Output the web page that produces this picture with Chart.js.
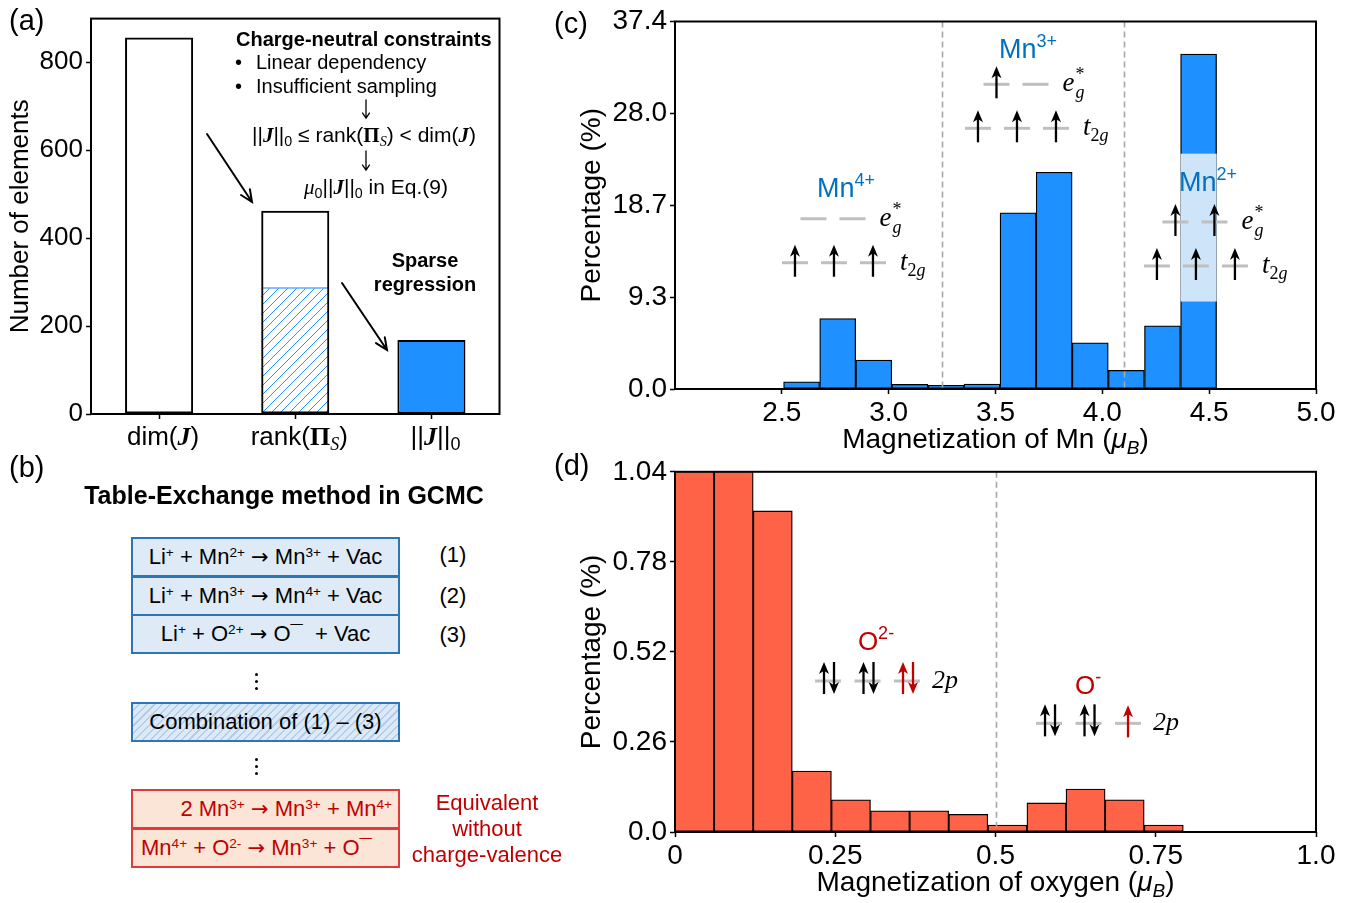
<!DOCTYPE html>
<html><head><meta charset="utf-8">
<script src="https://cdn.jsdelivr.net/npm/chart.js@4.4.1/dist/chart.umd.min.js"></script>
<style>
html,body{margin:0;padding:0;background:#fff;}
body{width:1359px;height:903px;position:relative;overflow:hidden;font-family:"Liberation Sans",Arial,Helvetica,sans-serif;color:#000;}
canvas{position:absolute;}
.t{position:absolute;white-space:nowrap;color:#000;}
.pl{position:absolute;font-size:29px;line-height:34px;}
sup.s{font-size:0.62em;position:relative;top:-0.5em;vertical-align:baseline;line-height:0;}
sub.s{font-size:0.68em;position:relative;top:0.28em;vertical-align:baseline;line-height:0;}
.J{font-family:"Liberation Serif","DejaVu Serif",serif;font-style:italic;font-weight:bold;}
.Pi{font-family:"Liberation Serif","DejaVu Serif",serif;font-weight:bold;}
.it{font-family:"Liberation Serif","DejaVu Serif",serif;font-style:italic;}
.ar{font-family:"DejaVu Sans",sans-serif;font-size:21px;}
.bx{position:absolute;left:131px;width:269px;height:40px;box-sizing:border-box;font-size:22px;line-height:36px;white-space:nowrap;}
.blue{border:2px solid #2e75b6;background:#deebf7;text-align:center;}
.hatch{border:2px solid #2e75b6;text-align:center;background:repeating-linear-gradient(-45deg,#dce9f6 0px,#dce9f6 4px,#b3cdea 4px,#b3cdea 5.5px);}
.red{border:2px solid #e03a3a;background:#fbe5d6;color:#c00000;}
.dots{position:absolute;width:3px;height:3px;border-radius:50%;background:#000;box-shadow:0 7px 0 #000,0 14px 0 #000;}
</style>
</head><body>

<canvas id="ca" width="515" height="460" style="left:0;top:0"></canvas>
<canvas id="cd" width="809" height="451" style="left:550px;top:452px"></canvas>
<canvas id="cc" width="809" height="460" style="left:550px;top:0"></canvas>

<!-- panel labels -->
<div class="pl" style="left:9px;top:3px">(a)</div>
<div class="pl" style="left:9px;top:450px">(b)</div>
<div class="pl" style="left:554px;top:6px">(c)</div>
<div class="pl" style="left:554px;top:448px">(d)</div>

<!-- panel (a) annotations -->
<div class="t" style="left:236px;top:27px;font-size:20px;font-weight:bold;line-height:25px">Charge-neutral constraints</div>
<div class="t" style="left:235px;top:50px;font-size:20px;line-height:25px">•</div>
<div class="t" style="left:256px;top:50px;font-size:20px;line-height:25px">Linear dependency</div>
<div class="t" style="left:235px;top:74px;font-size:20px;line-height:25px">•</div>
<div class="t" style="left:256px;top:74px;font-size:20px;line-height:25px">Insufficient sampling</div>
<div class="t" style="left:214px;width:300px;text-align:center;top:122px;font-size:21px;line-height:25px">||<span class="J">J</span>||<sub class="s">0</sub> ≤ rank(<span class="Pi">Π</span><sub class="s it">S</sub>) &lt; dim(<span class="J">J</span>)</div>
<div class="t" style="left:226px;width:300px;text-align:center;top:174px;font-size:21px;line-height:25px"><span class="it">μ</span><sub class="s">0</sub>||<span class="J">J</span>||<sub class="s">0</sub> in Eq.(9)</div>
<div class="t" style="left:345px;width:160px;text-align:center;top:248px;font-size:20px;font-weight:bold;line-height:24px">Sparse<br>regression</div>

<!-- panel (b) -->
<div class="t" style="left:40px;width:488px;text-align:center;top:480px;font-size:25px;font-weight:bold;line-height:30px">Table-Exchange method in GCMC</div>
<div class="bx blue" style="top:537px">Li<sup class="s">+</sup> + Mn<sup class="s">2+</sup> <span class="ar">→</span> Mn<sup class="s">3+</sup> + Vac</div>
<div class="bx blue" style="top:576px">Li<sup class="s">+</sup> + Mn<sup class="s">3+</sup> <span class="ar">→</span> Mn<sup class="s">4+</sup> + Vac</div>
<div class="bx blue" style="top:614px">Li<sup class="s">+</sup> + O<sup class="s">2+</sup> <span class="ar">→</span> O¯ &nbsp;+ Vac</div>
<div class="t" style="left:433px;width:40px;text-align:center;top:542px;font-size:22px;line-height:26px">(1)</div>
<div class="t" style="left:433px;width:40px;text-align:center;top:583px;font-size:22px;line-height:26px">(2)</div>
<div class="t" style="left:433px;width:40px;text-align:center;top:622px;font-size:22px;line-height:26px">(3)</div>
<div class="dots" style="left:255px;top:673px"></div>
<div class="bx hatch" style="top:702px">Combination of (1) – (3)</div>
<div class="dots" style="left:255px;top:758px"></div>
<div class="bx red" style="top:789px;text-align:right;padding-right:6px">2 Mn<sup class="s">3+</sup> <span class="ar">→</span> Mn<sup class="s">3+</sup> + Mn<sup class="s">4+</sup></div>
<div class="bx red" style="top:828px;text-align:left;padding-left:8px">Mn<sup class="s">4+</sup> + O<sup class="s">2-</sup> <span class="ar">→</span> Mn<sup class="s">3+</sup> + O¯</div>
<div class="t" style="left:395px;width:184px;text-align:center;top:790px;font-size:22px;line-height:26px;color:#c00000">Equivalent<br>without<br>charge-valence</div>

<script>
const SANS='"Liberation Sans", Arial, Helvetica, sans-serif';
const SERIF='"Liberation Serif", "DejaVu Serif", "Times New Roman", serif';
Chart.defaults.font.family=SANS;
Chart.defaults.color='#000';

// ================= DATA =================
// panel (a)
const aCategories=['dim(J)','rank(Pi_S)','||J||_0'];
const aElementCounts=[856,462,168];
const aIndependentPart=[null,288,null];
const aTicksY=[0,200,400,600,800];

// panel (c) : Mn magnetization histogram (percentage)
const mnBinEdges=[2.508,2.677,2.846,3.015,3.184,3.353,3.521,3.690,3.859,4.028,4.197,4.366,4.535];
const mnPercent=[0.74,7.17,2.94,0.47,0.37,0.51,17.94,22.06,4.70,1.90,6.43,34.08];
const mnTicksX=[2.5,3.0,3.5,4.0,4.5,5.0];
const mnTickLabelsX=['2.5','3.0','3.5','4.0','4.5','5.0'];
const mnTicksY=[0,9.35,18.7,28.05,37.4];
const mnTickLabelsY=['0.0','9.3','18.7','28.0','37.4'];
const mnValenceBounds=[3.25,4.1];

// panel (d) : O magnetization histogram (percentage)
const oBinEdges=[0,0.061,0.122,0.183,0.244,0.305,0.366,0.427,0.488,0.549,0.610,0.671,0.732,0.793];
const oPercent=[62.5,35.8,0.927,0.176,0.093,0.061,0.061,0.051,0.020,0.084,0.124,0.093,0.020];
const oTicksX=[0,0.25,0.5,0.75,1.0];
const oTickLabelsX=['0','0.25','0.5','0.75','1.0'];
const oTicksY=[0,0.26,0.52,0.78,1.04];
const oTickLabelsY=['0.0','0.26','0.52','0.78','1.04'];
const oValenceBounds=[0.5];

// ================= helpers =================
function drawRich(ctx,segs,x,y,align,color){
  let total=0;
  const ws=segs.map(s=>{
    let w;
    if(s.stack){w=Math.max(...s.stack.map(p=>{ctx.font=p.font;return ctx.measureText(p.t).width;}));}
    else{ctx.font=s.font;w=ctx.measureText(s.t).width;}
    w+=(s.gap||0);total+=w;return w;
  });
  let cx=align==='center'?x-total/2:(align==='right'?x-total:x);
  ctx.save();ctx.textBaseline='alphabetic';ctx.textAlign='left';
  segs.forEach((s,i)=>{
    (s.stack||[s]).forEach(p=>{ctx.font=p.font;ctx.fillStyle=p.color||s.color||color||'#000';ctx.fillText(p.t,cx+(p.dx||0),y+(p.dy||0));});
    cx+=ws[i];
  });
  ctx.restore();
}
function arrowV(ctx,x,yTail,yHead,color){
  const dir=Math.sign(yHead-yTail),hl=12,hw=5;
  ctx.save();ctx.strokeStyle=color;ctx.fillStyle=color;ctx.lineWidth=2.3;
  ctx.beginPath();ctx.moveTo(x,yTail);ctx.lineTo(x,yHead-dir*hl*0.6);ctx.stroke();
  ctx.beginPath();ctx.moveTo(x,yHead);ctx.lineTo(x-hw,yHead-dir*hl);ctx.lineTo(x,yHead-dir*hl*0.72);ctx.lineTo(x+hw,yHead-dir*hl);ctx.closePath();ctx.fill();
  ctx.restore();
}
function level(ctx,cx,y){
  ctx.save();ctx.strokeStyle='#bfbfbf';ctx.lineWidth=3;ctx.beginPath();ctx.moveTo(cx-13,y);ctx.lineTo(cx+13,y);ctx.stroke();ctx.restore();
}
function openArrow(ctx,x0,y0,x1,y1,lw,hl,ang){
  const a=Math.atan2(y1-y0,x1-x0);
  ctx.save();ctx.strokeStyle='#000';ctx.lineWidth=lw;ctx.lineCap='round';
  ctx.beginPath();ctx.moveTo(x0,y0);ctx.lineTo(x1,y1);
  ctx.moveTo(x1-hl*Math.cos(a-ang),y1-hl*Math.sin(a-ang));ctx.lineTo(x1,y1);
  ctx.lineTo(x1-hl*Math.cos(a+ang),y1-hl*Math.sin(a+ang));ctx.stroke();ctx.restore();
}
const framePlugin={id:'frame',afterDraw(chart){
  const a=chart.chartArea,ctx=chart.ctx;ctx.save();ctx.strokeStyle='#000';ctx.lineWidth=2;
  ctx.strokeRect(a.left,a.top,a.right-a.left,a.bottom-a.top);ctx.restore();
}};
function tickGrid(){return {display:true,drawOnChartArea:false,offset:false,tickLength:5,tickColor:'#000',tickWidth:1.5};}
function fixedTicks(vals){return function(s){s.ticks=vals.map(v=>({value:v}));};}
function centers(edges){const c=[];for(let i=0;i<edges.length-1;i++)c.push((edges[i]+edges[i+1])/2);return c;}
const baseOpts={responsive:false,animation:false,events:[],plugins:{legend:{display:false},tooltip:{enabled:false}}};

// ================= panel (a) =================
function makeHatch(){
  const c=document.createElement('canvas');c.width=c.height=9;const g=c.getContext('2d');
  g.fillStyle='#fff';g.fillRect(0,0,9,9);g.strokeStyle='#1e90ff';g.lineWidth=1;
  g.beginPath();g.moveTo(-1,10);g.lineTo(10,-1);g.moveTo(-1,1);g.lineTo(1,-1);g.moveTo(8,10);g.lineTo(10,8);g.stroke();
  return document.getElementById('ca').getContext('2d').createPattern(c,'repeat');
}
const aRich=(fs,ss)=>[
  [{t:'dim(',font:`${fs}px ${SANS}`},{t:'J',font:`italic bold ${fs}px ${SERIF}`},{t:')',font:`${fs}px ${SANS}`}],
  [{t:'rank(',font:`${fs}px ${SANS}`},{t:'Π',font:`bold ${fs}px ${SERIF}`},{t:'S',font:`italic ${ss}px ${SERIF}`,dy:5},{t:')',font:`${fs}px ${SANS}`}],
  [{t:'||',font:`${fs}px ${SANS}`},{t:'J',font:`italic bold ${fs}px ${SERIF}`},{t:'||',font:`${fs}px ${SANS}`},{t:'0',font:`${ss}px ${SANS}`,dy:5}]
];
const aPlugin={id:'aDecor',afterDraw(chart){
  const ctx=chart.ctx,xs=chart.scales.x;
  const rich=aRich(26,18);
  aCategories.forEach((c,i)=>drawRich(ctx,rich[i],xs.getPixelForTick(i)+4,445,'center'));
  openArrow(ctx,207,134,252,202,2,13,0.42);
  openArrow(ctx,342,283,387,350,2,13,0.42);
  openArrow(ctx,366,100,366,118,1.3,6,0.6);
  openArrow(ctx,366,151,366,170,1.3,6,0.6);
}};
new Chart(document.getElementById('ca'),{
  type:'bar',
  data:{labels:aCategories,datasets:[
    {label:'Number of elements',data:aElementCounts,backgroundColor:['rgba(0,0,0,0)','rgba(0,0,0,0)','#1e90ff'],borderColor:'#000',borderWidth:2,borderSkipped:false,grouped:false,order:0,barPercentage:0.5,categoryPercentage:1},
    {label:'Independent',data:aIndependentPart,backgroundColor:makeHatch(),borderColor:'#1e90ff',borderWidth:{top:1.5,left:0,right:0,bottom:0},borderSkipped:false,grouped:false,order:1,barPercentage:0.5,categoryPercentage:1}
  ]},
  options:Object.assign({},baseOpts,{
    layout:{padding:{left:0,top:16,right:15.5,bottom:0}},
    scales:{
      x:{offset:true,grid:tickGrid(),border:{display:false},ticks:{display:false},afterFit(s){s.height=46;}},
      y:{min:0,max:899,afterBuildTicks:fixedTicks(aTicksY),grid:tickGrid(),border:{display:false},
         ticks:{color:'#000',font:{family:SANS,size:26},padding:3,autoSkip:false},
         title:{display:true,text:'Number of elements',color:'#000',font:{family:SANS,size:26},padding:{top:5,bottom:0}},
         afterFit(s){s.width=91;}}
    }
  }),
  plugins:[framePlugin,aPlugin]
});

// ================= panel (c) =================
const BLUE_TXT='#0070c0';
const mnIons=[
  {charge:'4+',x:2.5615,y:12.85,eg:[0,0],ldx:51,ldy:-75},
  {charge:'3+',x:3.418,y:26.53,eg:[1,0],ldx:50,ldy:-80},
  {charge:'2+',x:4.2555,y:12.52,eg:[1,1],ldx:51,ldy:-85}
];
const mnHighlight={x0:4.366,x1:4.535,y0:8.9,y1:23.95};
function vDashed(chart,vals){
  const ctx=chart.ctx,a=chart.chartArea,xs=chart.scales.x;
  ctx.save();ctx.strokeStyle='#a6a6a6';ctx.lineWidth=1.6;ctx.setLineDash([6,4]);
  vals.forEach(v=>{const p=Math.round(xs.getPixelForValue(v))+0.5;ctx.beginPath();ctx.moveTo(p,a.top);ctx.lineTo(p,a.bottom);ctx.stroke();});
  ctx.restore();
}
const cPlugin={id:'cDecor',
  afterDatasetsDraw(chart){
    const ctx=chart.ctx,xs=chart.scales.x,ys=chart.scales.y;
    const hx0=xs.getPixelForValue(mnHighlight.x0),hx1=xs.getPixelForValue(mnHighlight.x1);
    const hy0=ys.getPixelForValue(mnHighlight.y0),hy1=ys.getPixelForValue(mnHighlight.y1);
    ctx.save();ctx.fillStyle='#cde4f9';ctx.fillRect(hx0,hy1,hx1-hx0,hy0-hy1);ctx.restore();
    vDashed(chart,mnValenceBounds);
    mnIons.forEach(ion=>{
      const px=xs.getPixelForValue(ion.x),py=ys.getPixelForValue(ion.y);
      [0,39,78].forEach(d=>{level(ctx,px+d,py);arrowV(ctx,px+d,py+14,py-18,'#000');});
      [18.5,57.5].forEach((d,k)=>{level(ctx,px+d,py-44);if(ion.eg[k])arrowV(ctx,px+d,py-44+14,py-44-18,'#000');});
      drawRich(ctx,[{t:'t',font:`italic 27px ${SERIF}`},{t:'2',font:`18px ${SERIF}`,dy:6},{t:'g',font:`italic 18px ${SERIF}`,dy:6}],px+105,py+7,'left');
      drawRich(ctx,[{t:'e',font:`italic 27px ${SERIF}`,gap:1},{stack:[{t:'g',font:`italic 18px ${SERIF}`,dy:7},{t:'*',font:`18px ${SERIF}`,dy:-11}]}],px+84.5,py-44+7,'left');
      drawRich(ctx,[{t:'Mn',font:`27px ${SANS}`},{t:ion.charge,font:`18px ${SANS}`,dy:-11}],px+ion.ldx,py+ion.ldy+9.7,'center',BLUE_TXT);
    });
  },
  afterDraw(chart){
    const a=chart.chartArea;
    drawRich(chart.ctx,[{t:'Magnetization of Mn (',font:`28px ${SANS}`},{t:'μ',font:`italic 28px ${SANS}`},{t:'B',font:`italic 19px ${SANS}`,dy:6},{t:')',font:`28px ${SANS}`}],(a.left+a.right)/2,448,'center');
  }
};
const mnCenters=centers(mnBinEdges);
new Chart(document.getElementById('cc'),{
  type:'bar',
  data:{datasets:[{label:'Mn',data:mnPercent.map((v,i)=>({x:mnCenters[i],y:v})),backgroundColor:'#1e90ff',borderColor:'#000',borderWidth:1.3,borderSkipped:false,barPercentage:1,categoryPercentage:1,clip:0}]},
  options:Object.assign({},baseOpts,{
    layout:{padding:{left:0,top:21.5,right:43,bottom:0}},
    scales:{
      x:{type:'linear',min:2.0,max:5.0,offset:false,afterBuildTicks:fixedTicks(mnTicksX),grid:tickGrid(),border:{display:false},
         ticks:{callback:(v,i)=>mnTickLabelsX[i],font:{family:SANS,size:28},color:'#000',padding:2,maxRotation:0,autoSkip:false},afterFit(s){s.height=71;}},
      y:{min:0,max:37.4,afterBuildTicks:fixedTicks(mnTicksY),grid:tickGrid(),border:{display:false},
         ticks:{callback:(v,i)=>mnTickLabelsY[i],font:{family:SANS,size:28},color:'#000',padding:3,autoSkip:false},
         title:{display:true,text:'Percentage (%)',color:'#000',font:{family:SANS,size:28},padding:{top:25,bottom:0}},
         afterFit(s){s.width=125;}}
    }
  }),
  plugins:[framePlugin,cPlugin]
});

// ================= panel (d) =================
const RED_TXT='#c00000';
const oIons=[
  {charge:'2-',x:0.2387,y:0.436,e:[2,2,2],red:[0,0,1],ldx:48,ldy:-40.6},
  {charge:'-',x:0.5835,y:0.3137,e:[2,2,1],red:[0,0,1],ldx:39,ldy:-39}
];
const dPlugin={id:'dDecor',
  afterDatasetsDraw(chart){
    const ctx=chart.ctx,xs=chart.scales.x,ys=chart.scales.y;
    vDashed(chart,oValenceBounds);
    oIons.forEach(ion=>{
      const px=xs.getPixelForValue(ion.x),py=ys.getPixelForValue(ion.y);
      [0,39.5,79].forEach((d,k)=>{
        level(ctx,px+d,py);
        const col=ion.red[k]?RED_TXT:'#000';
        if(ion.e[k]===2){arrowV(ctx,px+d-4,py+13,py-19,col);arrowV(ctx,px+d+6,py-19,py+13,col);}
        else{arrowV(ctx,px+d,py+14,py-18,col);}
      });
      drawRich(ctx,[{t:'2',font:`italic 26px ${SERIF}`},{t:'p',font:`italic 26px ${SERIF}`}],px+104,py+7,'left');
      drawRich(ctx,[{t:'O',font:`26px ${SANS}`},{t:ion.charge,font:`18px ${SANS}`,dy:-11}],px+ion.ldx,py+ion.ldy+9.5,'center',RED_TXT);
    });
  },
  afterDraw(chart){
    const a=chart.chartArea;
    drawRich(chart.ctx,[{t:'Magnetization of oxygen (',font:`28px ${SANS}`},{t:'μ',font:`italic 28px ${SANS}`},{t:'B',font:`italic 19px ${SANS}`,dy:6},{t:')',font:`28px ${SANS}`}],(a.left+a.right)/2,439,'center');
  }
};
const oCenters=centers(oBinEdges);
new Chart(document.getElementById('cd'),{
  type:'bar',
  data:{datasets:[{label:'O',data:oPercent.map((v,i)=>({x:oCenters[i],y:v})),backgroundColor:'#ff6347',borderColor:'#000',borderWidth:1.3,borderSkipped:false,barPercentage:1,categoryPercentage:1,clip:0}]},
  options:Object.assign({},baseOpts,{
    layout:{padding:{left:0,top:11,right:43,bottom:0}},
    scales:{
      x:{type:'linear',min:0,max:1.0,offset:false,afterBuildTicks:fixedTicks(oTicksX),grid:tickGrid(),border:{display:false},
         ticks:{callback:(v,i)=>oTickLabelsX[i],font:{family:SANS,size:28},color:'#000',padding:2,maxRotation:0,autoSkip:false},afterFit(s){s.height=71;}},
      y:{min:0,max:1.04,afterBuildTicks:fixedTicks(oTicksY),grid:tickGrid(),border:{display:false},
         ticks:{callback:(v,i)=>oTickLabelsY[i],font:{family:SANS,size:28},color:'#000',padding:3,autoSkip:false},
         title:{display:true,text:'Percentage (%)',color:'#000',font:{family:SANS,size:28},padding:{top:25,bottom:0}},
         afterFit(s){s.width=125;}}
    }
  }),
  plugins:[framePlugin,dPlugin]
});
</script>
</body></html>
